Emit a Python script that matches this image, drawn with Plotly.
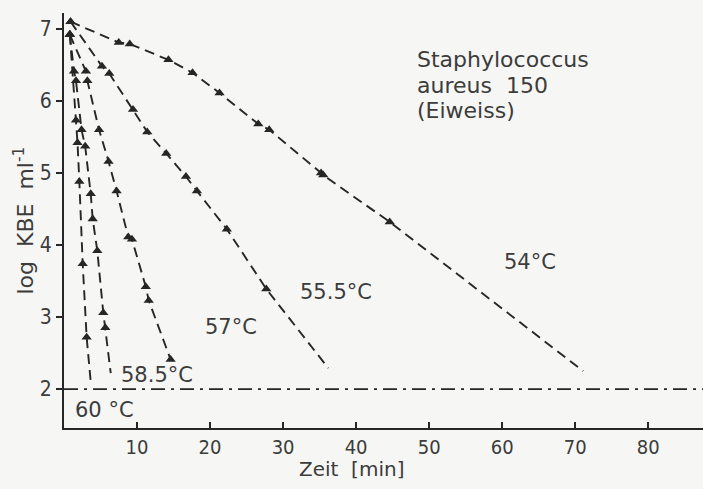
import plotly.graph_objects as go

# Survival curves of Staphylococcus aureus 150 in protein medium
# time in minutes, log10 colony forming units per ml
t_54 = [0.9, 7.5, 9.0, 14.3, 17.6, 21.3, 26.6, 28.1, 35.2, 35.5, 44.6]
y_54 = [7.10, 6.81, 6.79, 6.57, 6.39, 6.11, 5.68, 5.60, 5.00, 4.97, 4.32]
end_54 = (71.1, 2.25)

t_555 = [0.9, 5.2, 6.2, 9.45, 11.4, 14.0, 16.7, 18.2, 22.3, 27.7]
y_555 = [7.10, 6.48, 6.38, 5.88, 5.57, 5.27, 4.95, 4.75, 4.22, 3.39]
end_555 = (36.2, 2.29)

t_57 = [0.8, 3.0, 3.2, 4.8, 6.1, 7.2, 8.8, 9.3, 11.2, 11.6, 14.6]
y_57 = [6.92, 6.41, 6.28, 5.60, 5.16, 4.75, 4.11, 4.08, 3.42, 3.23, 2.41]
end_57 = (14.6, 2.41)

t_585 = [0.8, 1.37, 1.64, 2.4, 2.9, 3.66, 3.93, 4.56, 5.38, 5.66]
y_585 = [6.92, 6.41, 6.28, 5.60, 5.37, 4.71, 4.36, 3.92, 3.06, 2.85]
end_585 = (6.4, 2.22)

t_60 = [0.8, 1.64, 1.85, 2.1, 2.56, 3.1]
y_60 = [6.92, 5.73, 5.42, 4.88, 3.74, 2.72]
end_60 = (3.66, 2.10)

detection_limit = 2.0

x_ticks = [10, 20, 30, 40, 50, 60, 70, 80]
y_ticks = [2, 3, 4, 5, 6, 7]

# curve labels: text and anchor position (t, log KBE)
curve_labels = [
    ("54°C", 63.8, 3.76),
    ("55.5°C", 37.3, 3.35),
    ("57°C", 22.9, 2.86),
    ("58.5°C", 12.7, 2.19),
    ("60 °C", 5.5, 1.71),
]

# organism caption, one line per entry (left edge t, baseline-ish log KBE)
caption_lines = ["Staphylococcus", "aureus  150", "(Eiweiss)"]
caption_t = 48.0
caption_y = [6.57, 6.22, 5.87]

INK = "#262626"
TEXT = "#3c3c3c"
FONT = "DejaVu Sans"
TICKFONT = "Liberation Sans Narrow, DejaVu Sans Condensed, DejaVu Sans"

series = [
    (t_54, y_54, end_54),
    (t_555, y_555, end_555),
    (t_57, y_57, end_57),
    (t_585, y_585, end_585),
    (t_60, y_60, end_60),
]

fig = go.Figure()
for ts, ys, end in series:
    fig.add_trace(go.Scatter(
        x=ts + [end[0]], y=ys + [end[1]], mode="lines",
        line=dict(color=INK, width=1.9, dash="10px,6px"),
        hoverinfo="skip", showlegend=False,
    ))
    fig.add_trace(go.Scatter(
        x=ts, y=ys, mode="markers",
        marker=dict(symbol="triangle-up", size=9, color=INK),
        showlegend=False,
    ))

# detection limit
fig.add_shape(type="line", xref="paper", x0=0, x1=1,
              yref="y", y0=detection_limit, y1=detection_limit,
              line=dict(color=INK, width=1.9, dash="14px,6px,3px,6px"))

annotations = []
for text, tx, ty in curve_labels:
    annotations.append(dict(x=tx, y=ty, xref="x", yref="y", text=text,
                            showarrow=False,
                            font=dict(family=FONT, size=21, color=TEXT)))

for line, cy in zip(caption_lines, caption_y):
    annotations.append(dict(
        x=caption_t, y=cy, xref="x", yref="y", xanchor="left",
        yanchor="middle", showarrow=False, text=line,
        font=dict(family=FONT, size=22, color=TEXT)))

annotations.append(dict(
    x=0.45, y=0, xref="paper", yref="paper", yshift=-41, yanchor="middle",
    showarrow=False, text="Zeit  [min]",
    font=dict(family=FONT, size=20, color=TEXT)))

annotations.append(dict(
    x=0, y=0.5, xref="paper", yref="paper", xshift=-41, xanchor="center",
    yanchor="middle", textangle=-90, showarrow=False,
    text="log  KBE  ml<sup>-1</sup>",
    font=dict(family=FONT, size=22, color=TEXT)))

fig.update_layout(
    width=703, height=489,
    margin=dict(l=64, r=0, t=13, b=61),
    paper_bgcolor="#f6f6f4", plot_bgcolor="#f6f6f4",
    annotations=annotations,
    showlegend=False,
)
fig.update_xaxes(
    range=[0, 87.5], tickvals=x_ticks, ticks="inside", ticklen=6,
    tickcolor=INK, tickwidth=1.5, showline=True, linecolor=INK,
    linewidth=2, showgrid=False, zeroline=False,
    tickfont=dict(family=TICKFONT, size=20, color=TEXT),
)
fig.update_yaxes(
    range=[1.46, 7.22], tickvals=y_ticks, ticks="outside", ticklen=6,
    tickcolor=INK, tickwidth=1.5, showline=True, linecolor=INK,
    linewidth=2, showgrid=False, zeroline=False,
    tickfont=dict(family=TICKFONT, size=21, color=TEXT),
)

fig.write_html("out.html")
